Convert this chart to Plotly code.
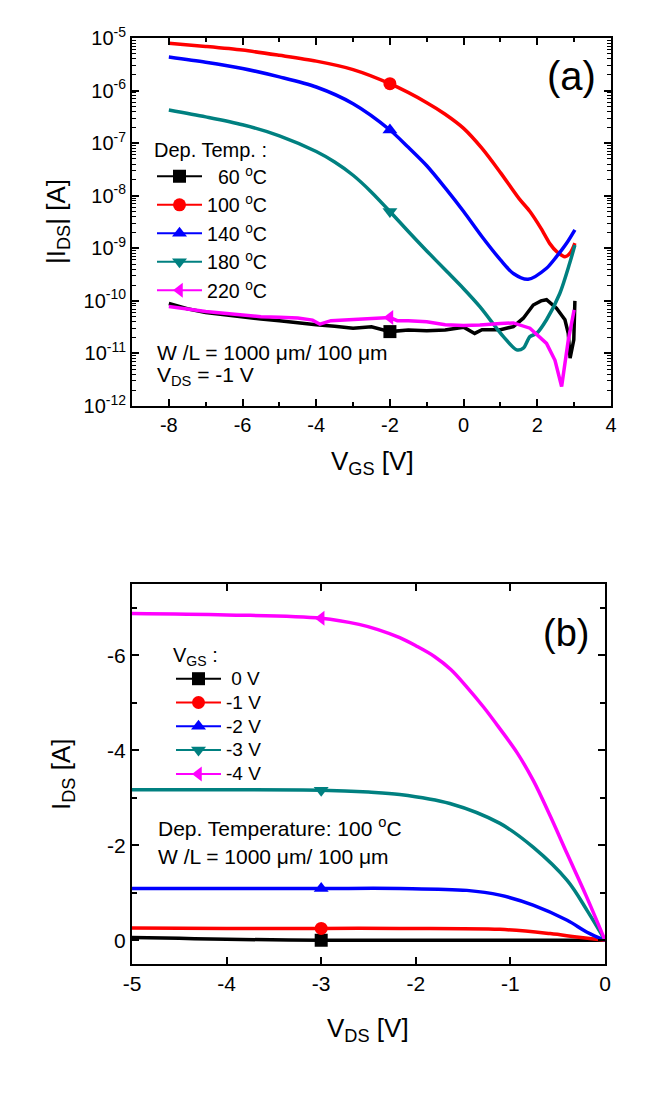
import plotly.graph_objects as go

# ---------------- data : panel (a) transfer curves ----------------
temps = ["60", "100", "140", "180", "220"]

vgs_60 = [-8, -7.5, -7, -6.5, -6, -5.5, -5, -4.5, -4, -3.5, -3, -2.5, -2, -1.5, -1, -0.5, 0,
          0.3, 0.5, 1.0, 1.35, 1.62, 1.89, 2.1, 2.25, 2.52, 2.75, 2.84, 2.89, 2.99, 3.02]
ids_60 = [8.9e-11, 7.1e-11, 6.0e-11, 5.4e-11, 5.0e-11, 4.5e-11, 4.2e-11, 3.8e-11, 3.5e-11, 3.3e-11,
          3.0e-11, 3.2e-11, 2.6e-11, 2.8e-11, 2.7e-11, 2.8e-11, 3.16e-11,
          2.40e-11, 2.82e-11, 2.82e-11, 3.24e-11, 4.68e-11, 8.32e-11, 1.0e-10, 1.05e-10, 7.24e-11,
          4.37e-11, 2.40e-11, 8.13e-12, 1.82e-11, 1.0e-10]

vgs_100 = [-8, -7, -6, -5, -4, -3, -2, -1, -0.5, 0, 0.5, 1, 1.5, 1.8, 2.1, 2.35, 2.52, 2.75, 2.9, 3.02]
ids_100 = [7.94e-6, 6.92e-6, 5.89e-6, 4.68e-6, 3.63e-6, 2.51e-6, 1.35e-6, 5.89e-7, 3.55e-7,
           1.91e-7, 7.94e-8, 2.75e-8, 8.91e-9, 5.01e-9, 2.40e-9, 1.20e-9, 8.71e-10, 6.92e-10,
           8.32e-10, 1.26e-9]

vgs_140 = [-8, -7, -6, -5, -4, -3, -2, -1.5, -1, -0.5, 0, 0.5, 1.0, 1.35, 1.75, 2.25, 2.52, 2.79, 3.02]
ids_140 = [4.37e-6, 3.47e-6, 2.63e-6, 1.82e-6, 1.17e-6, 5.62e-7, 1.78e-7, 8.32e-8, 3.72e-8,
           1.41e-8, 5.01e-9, 1.66e-9, 6.03e-10, 3.31e-10, 2.57e-10, 4.17e-10, 6.92e-10, 1.23e-9,
           2.24e-9]

vgs_180 = [-8, -7, -6, -5, -4, -3.5, -3, -2.5, -2, -1.5, -1, -0.5, 0, 0.44, 1.08, 1.44, 1.62, 1.8,
           1.98, 2.25, 2.61, 2.88, 3.02]
ids_180 = [4.27e-7, 3.16e-7, 2.24e-7, 1.38e-7, 6.92e-8, 4.37e-8, 2.45e-8, 1.17e-8, 5.01e-9,
           2.09e-9, 8.91e-10, 3.89e-10, 1.70e-10, 7.76e-11, 2.09e-11, 1.17e-11, 1.26e-11, 2.09e-11,
           2.40e-11, 4.37e-11, 1.38e-10, 5.25e-10, 1.15e-9]

vgs_220 = [-8, -7.5, -7, -6.5, -6, -5.5, -5, -4.5, -4.1, -3.9, -3.6, -3, -2.5, -2, -1.8, -1.5,
           -1, -0.5, 0, 0.44, 1.0, 1.35, 1.8, 2.25, 2.48, 2.66, 2.84, 3.0]
ids_220 = [7.8e-11, 6.9e-11, 6.3e-11, 5.8e-11, 5.4e-11, 5.0e-11, 4.9e-11, 4.7e-11, 4.3e-11,
           3.6e-11, 4.2e-11, 4.4e-11, 4.5e-11, 4.8e-11, 4.2e-11, 4.2e-11, 4.0e-11, 3.5e-11,
           3.39e-11, 3.47e-11, 3.72e-11, 3.80e-11, 3.02e-11, 1.55e-11, 7.41e-12, 2.34e-12,
           1.78e-11, 6.76e-11]

# ---------------- data : panel (b) output curves ----------------
vgs_labels = ["0 V", "-1 V", "-2 V", "-3 V", "-4 V"]

vds_0 = [-5, -4.5, -4, -3, -2, -1, 0]
ids_0 = [-0.06, -0.04, -0.02, 0.0, 0.0, 0.0, 0.0]

vds_1 = [-5, -4, -3, -2.17, -1.11, -0.58, -0.3, 0]
ids_1 = [-0.26, -0.25, -0.25, -0.25, -0.23, -0.14, -0.07, 0.0]

vds_2 = [-5, -4, -3, -2.17, -1.46, -1.11, -0.76, -0.4, -0.19, 0]
ids_2 = [-1.09, -1.09, -1.09, -1.09, -1.05, -0.95, -0.74, -0.42, -0.17, 0.0]

vds_3 = [-5, -4, -3, -2.5, -2.17, -1.64, -1.11, -0.76, -0.4, -0.19, 0]
ids_3 = [-3.17, -3.17, -3.16, -3.12, -3.07, -2.88, -2.46, -1.96, -1.26, -0.63, 0.0]

vds_4 = [-5, -4, -3, -2.6, -2.4, -2.17, -2.0, -1.8, -1.63, -1.46, -1.28, -1.11, -0.93, -0.76,
         -0.58, -0.4, -0.2, 0]
ids_4 = [-6.88, -6.85, -6.78, -6.65, -6.54, -6.37, -6.20, -5.97, -5.70, -5.33, -4.90, -4.45,
         -3.95, -3.37, -2.62, -1.82, -0.94, 0.0]

# tick labels
xa_ticks = [-8, -6, -4, -2, 0, 2, 4]
ya_exps = [-12, -11, -10, -9, -8, -7, -6, -5]
xb_ticks = [-5, -4, -3, -2, -1, 0]
yb_ticks = [-6, -4, -2, 0]

# ---------------- style ----------------
colors = ["#000000", "#FF0000", "#0000FF", "#008080", "#FF00FF"]
symbols = ["square", "circle", "triangle-up", "triangle-down", "triangle-left"]
FONT = "Liberation Sans, Arial, sans-serif"
PAGE_W, PAGE_H = 670, 1101
OFF = 8  # default page body margin
W, H = PAGE_W - OFF, PAGE_H - OFF


def px(x):
    return (x - OFF) / W


def py(y):
    return 1 - (y - OFF) / H


fig = go.Figure()

panel_a = [(vgs_60, ids_60, "linear", 0), (vgs_100, ids_100, "spline", 0.8),
           (vgs_140, ids_140, "spline", 0.8), (vgs_180, ids_180, "spline", 0.8),
           (vgs_220, ids_220, "linear", 0)]
for i, (xv, yv, shp, sm) in enumerate(panel_a):
    ln = dict(color=colors[i], width=3.5, shape=shp)
    if shp == "spline":
        ln["smoothing"] = sm
    fig.add_trace(go.Scatter(x=xv, y=yv, mode="lines", line=ln,
                             showlegend=False, xaxis="x", yaxis="y"))
for i, (xv, yv, shp, sm) in enumerate(panel_a):
    k = xv.index(-2)
    fig.add_trace(go.Scatter(x=[xv[k]], y=[yv[k]], mode="markers",
                             marker=dict(color=colors[i], symbol=symbols[i], size=13),
                             showlegend=False, xaxis="x", yaxis="y"))
for i, t in enumerate(temps):
    name = ("\u00a0\u00a0" + t if len(t) == 2 else t) + " <sup>o</sup>C"
    fig.add_trace(go.Scatter(x=[None], y=[None], mode="lines+markers", name=name,
                             line=dict(color=colors[i], width=2),
                             marker=dict(color=colors[i], symbol=symbols[i], size=13),
                             legend="legend", xaxis="x", yaxis="y"))

panel_b = [(vds_0, ids_0), (vds_1, ids_1), (vds_2, ids_2), (vds_3, ids_3), (vds_4, ids_4)]
for i, (xv, yv) in enumerate(panel_b):
    fig.add_trace(go.Scatter(x=xv, y=yv, mode="lines",
                             line=dict(color=colors[i], width=3.5, shape="spline", smoothing=1.0),
                             showlegend=False, xaxis="x2", yaxis="y2"))
for i, (xv, yv) in enumerate(panel_b):
    k = xv.index(-3)
    fig.add_trace(go.Scatter(x=[xv[k]], y=[yv[k]], mode="markers",
                             marker=dict(color=colors[i], symbol=symbols[i], size=13),
                             showlegend=False, xaxis="x2", yaxis="y2"))
for i, lab in enumerate(vgs_labels):
    name = ("\u00a0" + lab) if not lab.startswith("-") else lab
    name = '<span style="font-size:19px">' + name + '</span>'
    fig.add_trace(go.Scatter(x=[None], y=[None], mode="lines+markers", name=name,
                             line=dict(color=colors[i], width=2),
                             marker=dict(color=colors[i], symbol=symbols[i], size=13),
                             legend="legend2", xaxis="x2", yaxis="y2"))

axis_common = dict(showline=True, linewidth=2, linecolor="black", mirror="ticks", ticks="inside",
                   ticklen=7, tickwidth=1.5, tickcolor="black", showgrid=False, zeroline=False,
                   automargin=False)

fig.update_layout(
    width=W, height=H, margin=dict(l=0, r=0, t=0, b=0),
    paper_bgcolor="white", plot_bgcolor="white",
    font=dict(family=FONT, color="black"),
    xaxis=dict(domain=[px(132), px(611)], range=[-9, 4], anchor="y",
               tickmode="array", tickvals=xa_ticks, ticktext=[str(v) for v in xa_ticks],
               tickfont=dict(family=FONT, size=20, color="black"),
               minor=dict(ticks="inside", ticklen=4, tickwidth=1.5, tickcolor="black", dtick=1, tick0=0),
               **axis_common),
    yaxis=dict(domain=[py(406), py(38)], type="log", range=[-12, -5], anchor="x",
               tickmode="array", tickvals=[10.0 ** e for e in ya_exps],
               ticktext=["10<sup>%d</sup>" % e for e in ya_exps],
               tickfont=dict(family=FONT, size=20, color="black"),
               minor=dict(ticks="inside", ticklen=4, tickwidth=1, tickcolor="black", dtick="D1"),
               **axis_common),
    xaxis2=dict(domain=[px(132), px(605)], range=[-5, 0], anchor="y2",
                tickmode="array", tickvals=xb_ticks, ticktext=[str(v) for v in xb_ticks],
                tickfont=dict(family=FONT, size=21, color="black"),
                **axis_common),
    yaxis2=dict(domain=[py(964), py(584)], range=[0.5, -7.5], anchor="x2",
                tickmode="array", tickvals=yb_ticks, ticktext=[str(v) for v in yb_ticks],
                tickfont=dict(family=FONT, size=21, color="black"),
                minor=dict(ticks="inside", ticklen=5, tickwidth=1.5, tickcolor="black", dtick=1, tick0=0),
                **axis_common),
    legend=dict(x=px(152), y=py(115.5), xanchor="left", yanchor="top", bgcolor="rgba(0,0,0,0)",
                font=dict(family=FONT, size=19.6, color="black"), itemwidth=45,
                title=dict(text='<span style="font-size:20px">Dep. Temp. :</span>',
                           font=dict(family=FONT, size=32, color="black"))),
    legend2=dict(x=px(171), y=py(615), xanchor="left", yanchor="top", bgcolor="rgba(0,0,0,0)",
                 font=dict(family=FONT, size=16, color="black"), itemwidth=45,
                 title=dict(text='<span style="font-size:20px">V<sub>GS</sub> :</span>',
                            font=dict(family=FONT, size=36, color="black"))),
)

ann = [
    dict(text="(a)", x=px(571), y=py(76), size=40, xanchor="center"),
    dict(text="(b)", x=px(566), y=py(633), size=38, xanchor="center"),
    dict(text="W /L = 1000 \u03bcm/ 100 \u03bcm", x=px(155), y=py(352), size=21, xanchor="left"),
    dict(text="V<sub>DS</sub> = -1 V", x=px(155), y=py(376), size=21, xanchor="left"),
    dict(text="Dep. Temperature: 100 <sup>o</sup>C", x=px(156), y=py(827), size=21, xanchor="left"),
    dict(text="W /L = 1000 \u03bcm/ 100 \u03bcm", x=px(156), y=py(856), size=21, xanchor="left"),
    dict(text="V<sub>GS</sub> [V]", x=px(372), y=py(463), size=26, xanchor="center"),
    dict(text="V<sub>DS</sub> [V]", x=px(368), y=py(1030), size=26, xanchor="center"),
]
for a in ann:
    fig.add_annotation(text=a["text"], x=a["x"], y=a["y"], xref="paper", yref="paper",
                       xanchor=a["xanchor"], yanchor="middle", showarrow=False,
                       font=dict(family=FONT, size=a["size"], color="black"))
fig.add_annotation(text="|I<sub>DS</sub>| [A]", x=px(58), y=py(222), xref="paper", yref="paper",
                   textangle=-90, showarrow=False, xanchor="center", yanchor="middle",
                   font=dict(family=FONT, size=26, color="black"))
fig.add_annotation(text="I<sub>DS</sub> [A]", x=px(62), y=py(774), xref="paper", yref="paper",
                   textangle=-90, showarrow=False, xanchor="center", yanchor="middle",
                   font=dict(family=FONT, size=26, color="black"))

fig.write_html("out.html")
